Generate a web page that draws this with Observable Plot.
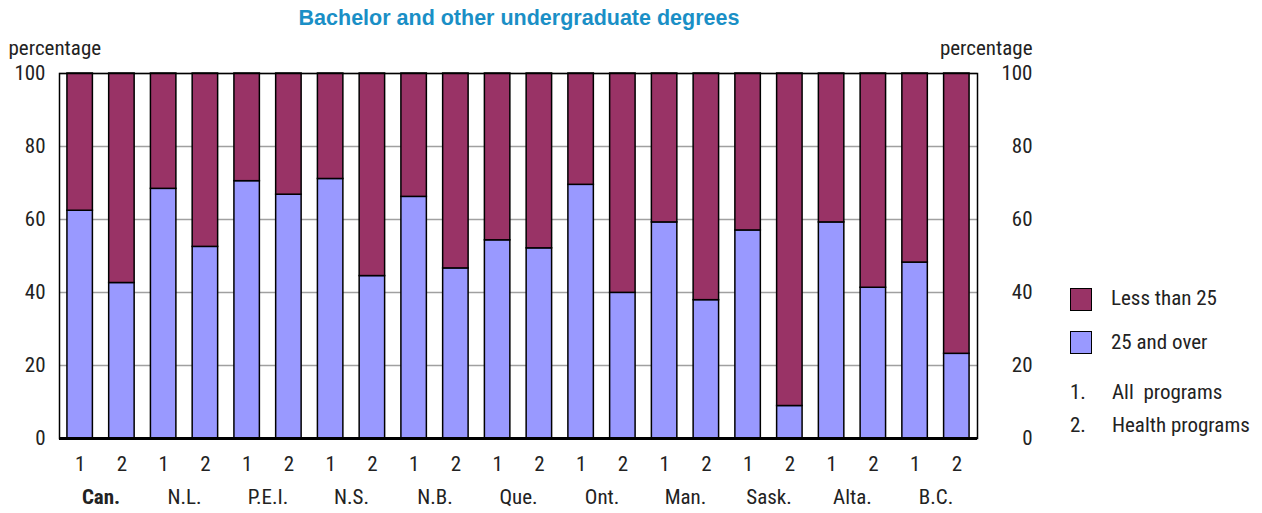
<!DOCTYPE html>
<html><head><meta charset="utf-8">
<script src="https://cdn.jsdelivr.net/npm/d3@7"></script>
<script src="https://cdn.jsdelivr.net/npm/@observablehq/plot@0.6"></script>
<style>
body{margin:0;background:#fff;}
#wrap{position:relative;width:1262px;height:513px;font-family:"Roboto Condensed","Roboto",sans-serif;color:#222;}
#title{position:absolute;left:0;width:1038px;top:6px;text-align:center;font:bold 21.5px "Liberation Sans",Arial,sans-serif;color:#1a8fc6;}
.sw{position:absolute;width:20px;height:21px;border:1.5px solid #000;}
.lt{position:absolute;font-size:21px;line-height:24px;white-space:pre;}
#chart{position:absolute;left:0;top:0;}
</style></head>
<body><div id="wrap">
<div id="chart"></div>
<div id="title">Bachelor and other undergraduate degrees</div>
<div class="sw" style="left:1070px;top:288px;background:#993366"></div>
<div class="lt" style="left:1111px;top:286px">Less than 25</div>
<div class="sw" style="left:1070px;top:331px;background:#9999ff"></div>
<div class="lt" style="left:1111px;top:330px">25 and over</div>
<div class="lt" style="left:1070px;top:380px">1.</div>
<div class="lt" style="left:1112px;top:380px">All  programs</div>
<div class="lt" style="left:1070px;top:413px">2.</div>
<div class="lt" style="left:1112px;top:413px">Health programs</div>
</div>
<script>
const provinces = ["Can.","N.L.","P.E.I.","N.S.","N.B.","Que.","Ont.","Man.","Sask.","Alta.","B.C."];
const programs = ["1","2"];
const ageGroups = ["Less than 25","25 and over"];
// 25 and over (percentage)
const over25All    = [62.4, 68.4, 70.5, 71.1, 66.2, 54.3, 69.5, 59.2, 57.0, 59.2, 48.2];
const over25Health = [42.6, 52.5, 66.8, 44.5, 46.6, 52.1, 39.9, 37.9,  8.9, 41.3, 23.2];
// Less than 25 (percentage)
const under25All    = [37.6, 31.6, 29.5, 28.9, 33.8, 45.7, 30.5, 40.8, 43.0, 40.8, 51.8];
const under25Health = [57.4, 47.5, 33.2, 55.5, 53.4, 47.9, 60.1, 62.1, 91.1, 58.7, 76.8];
const yTicks = [0, 20, 40, 60, 80, 100];

const data = [];
const keys = [];
provinces.forEach((p, i) => {
  programs.forEach(g => keys.push(p + "|" + g));
  data.push({key: p + "|1", age: "25 and over", value: over25All[i]});
  data.push({key: p + "|1", age: "Less than 25", value: under25All[i]});
  data.push({key: p + "|2", age: "25 and over", value: over25Health[i]});
  data.push({key: p + "|2", age: "Less than 25", value: under25Health[i]});
});
const provLabels = provinces.map(p => ({key: p + "|1", name: p}));
const FS = 21;
const provOpts = {x: "key", text: "name", frameAnchor: "bottom", dx: 20.9, dy: 59, lineAnchor: "middle", fontSize: FS};

const chart = Plot.plot({
  width: 1262, height: 513,
  marginLeft: 59, marginRight: 285, marginTop: 73, marginBottom: 75,
  style: {fontFamily: '"Roboto Condensed","Roboto",sans-serif', fontSize: FS + "px", color: "#222", background: "white"},
  x: {type: "band", domain: keys, paddingInner: 0.39, paddingOuter: 0.19, round: false},
  y: {domain: [0, 100]},
  color: {domain: ageGroups, range: ["#993366", "#9999ff"]},
  marks: [
    Plot.gridY(yTicks, {stroke: "#a0a0a0", strokeOpacity: 1, strokeWidth: 1.5}),
    Plot.barY(data, {x: "key", y: "value", fill: "age", stroke: "black", strokeWidth: 1.5,
      order: ["25 and over", "Less than 25"]}),
    Plot.frame({stroke: "black", strokeWidth: 1.5}),
    Plot.ruleY([0], {stroke: "black", strokeWidth: 3}),
    Plot.axisY(yTicks, {tickSize: 0, tickPadding: 14, label: null, fontSize: FS}),
    Plot.text(yTicks, {y: d => d, frameAnchor: "right", dx: 55, textAnchor: "end", fontSize: FS}),
    Plot.axisX({tickSize: 0, tickPadding: 18, label: null, fontSize: FS, tickFormat: d => d.split("|")[1]}),
    Plot.text(provLabels.filter(d => d.name === "Can."), {...provOpts, fontWeight: "bold"}),
    Plot.text(provLabels.filter(d => d.name !== "Can."), provOpts),
    Plot.text(["percentage"], {frameAnchor: "top-left", dx: -51, dy: -25, textAnchor: "start", lineAnchor: "middle", fontSize: FS}),
    Plot.text(["percentage"], {frameAnchor: "top-right", dx: 55, dy: -25, textAnchor: "end", lineAnchor: "middle", fontSize: FS})
  ]
});
document.getElementById("chart").appendChild(chart);
</script>
</body></html>
